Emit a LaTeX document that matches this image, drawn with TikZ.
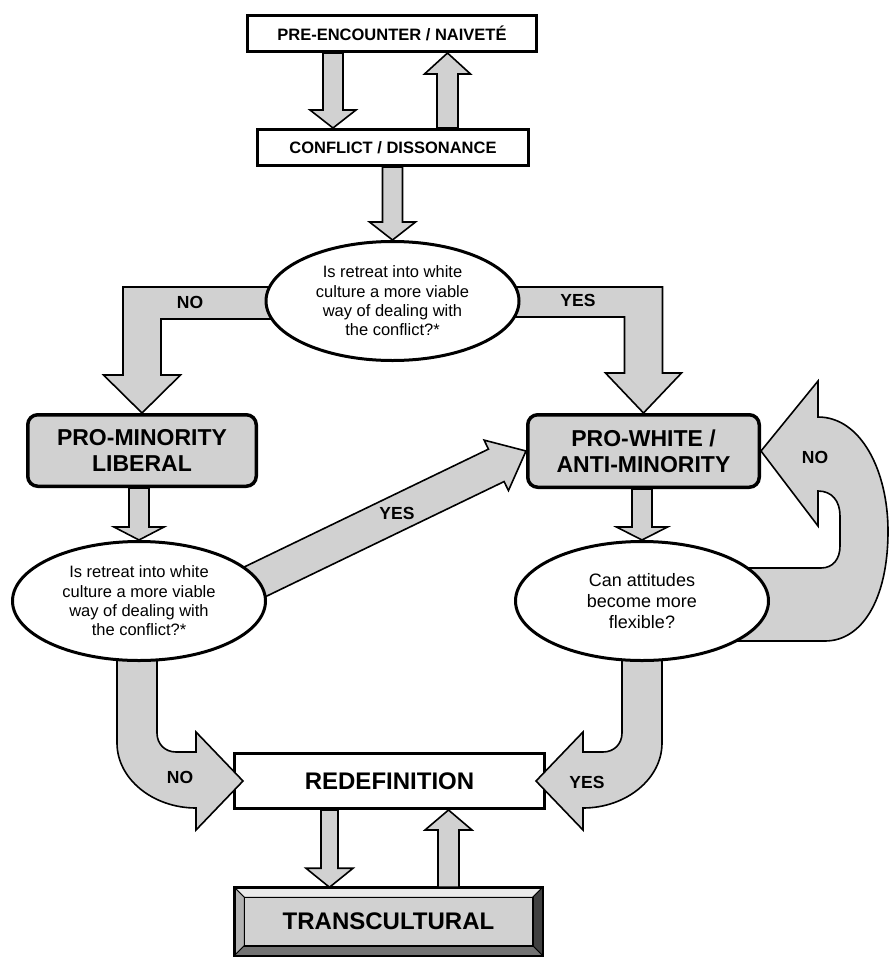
\documentclass[tikz,border=0pt]{standalone}
\usepackage{fontspec}
\setmainfont{Liberation Sans}
\usetikzlibrary{positioning, shapes.geometric, calc}

\pgfdeclarelayer{front}
\pgfsetlayers{main,front}

% block arrow: from, to, half shaft, half head, head length
\newcommand{\fatarrow}[5]{%
  \coordinate (fa-base) at ($(#2)!#5!(#1)$);
  \draw[fat] ($(#1)!#3!90:(#2)$) -- ($(fa-base)!#3!90:(#2)$)
    -- ($(fa-base)!#4!90:(#2)$) -- (#2)
    -- ($(fa-base)!#4!-90:(#2)$) -- ($(fa-base)!#3!-90:(#2)$)
    -- ($(#1)!#3!-90:(#2)$) -- cycle;
}

\begin{document}
\begin{tikzpicture}[
    x=1pt, y=-1pt,          % 1 unit = 1 pixel, y grows downwards
    % white boxes
    plainbox/.style={draw, line width=3pt, fill=white, inner sep=0pt,
        font=\fontsize{16.5}{19}\selectfont\bfseries},
    % grey rounded stage boxes
    stagebox/.style={draw, line width=3.5pt, fill=black!18, rounded corners=10pt,
        inner sep=0pt, align=center, font=\fontsize{23}{25.7}\selectfont\bfseries},
    % bevelled end box
    transbox/.style={draw, line width=2.5pt, fill=black!18, inner sep=0pt, outer sep=0pt,
        font=\fontsize{24}{28}\selectfont\bfseries},
    % question ellipses
    question/.style={ellipse, draw, line width=3pt, fill=white, inner sep=0pt, align=center,
        minimum width=253pt, minimum height=119pt, font=\fontsize{16.5}{19.3}\selectfont},
    % grey block arrows
    fat/.style={draw, line width=1.6pt, fill=black!18, line join=miter},
    answer/.style={font=\fontsize{17.5}{20}\selectfont\bfseries}
]
    \useasboundingbox (0,0) rectangle (892,961);

    % --- 1. boxes ---
    \node [plainbox, minimum width=289pt, minimum height=36pt] (pre) at (392,33.5) {PRE-ENCOUNTER / NAIVETÉ};
    \node [plainbox, minimum width=271pt, minimum height=36pt] (conf) at (393,147.5) {CONFLICT / DISSONANCE};
    \node [stagebox, minimum width=228.5pt, minimum height=71.5pt] (promin) at (142,450.5) {PRO-MINORITY\\LIBERAL};
    \node [stagebox, minimum width=231.5pt, minimum height=72.5pt] (prowhite) at (643.5,451) {PRO-WHITE /\\ANTI-MINORITY};
    \node [plainbox, minimum width=310pt, minimum height=55pt, font=\fontsize{24}{28}\selectfont\bfseries]
        (redef) at (389.5,781) {REDEFINITION};
    \node [transbox, minimum width=308.5pt, minimum height=68.5pt] (trans) at (388.5,921.5) {TRANSCULTURAL};

    % bevel of the end box
    \filldraw [black!8, draw=black, line width=1pt] (trans.north west) -- (trans.north east)
        -- ($(trans.north east)+(-10,10)$) -- ($(trans.north west)+(10,10)$) -- cycle;
    \filldraw [black!30, draw=black, line width=1pt] (trans.north west) -- ($(trans.north west)+(10,10)$)
        -- ($(trans.south west)+(10,-10)$) -- (trans.south west) -- cycle;
    \filldraw [black!75, draw=black, line width=1pt] (trans.north east) -- (trans.south east)
        -- ($(trans.south east)+(-10,-10)$) -- ($(trans.north east)+(-10,10)$) -- cycle;
    \filldraw [black!55, draw=black, line width=1pt] (trans.south west) -- (trans.south east)
        -- ($(trans.south east)+(-10,-10)$) -- ($(trans.south west)+(10,-10)$) -- cycle;
    \draw [line width=1.5pt] ($(trans.north west)+(10,10)$) rectangle ($(trans.south east)+(-10,-10)$);
    \draw [line width=2.5pt] (trans.north west) rectangle (trans.south east);

    % --- 2. questions (on top of the arrow tails) ---
    \begin{pgfonlayer}{front}
        \node [question] (q1) at (392.5,301) {Is retreat into white\\culture a more viable\\way of dealing with\\the conflict?*};
        \node [question] (q2) at (139,601) {Is retreat into white\\culture a more viable\\way of dealing with\\the conflict?*};
        \node [question, font=\fontsize{18}{21}\selectfont] (q3) at (642,601) {Can attitudes\\become more\\flexible?};
    \end{pgfonlayer}

    % --- 3. straight block arrows ---
    \coordinate (pcS) at ($(pre.south)+(-59,0)$);
    \fatarrow{pcS}{pcS |- conf.north}{10pt}{23pt}{18pt}
    \coordinate (cpS) at ($(conf.north)+(54.5,0)$);
    \fatarrow{cpS}{cpS |- pre.south}{10.5pt}{23pt}{21pt}
    \fatarrow{conf.south -| q1.north}{q1.north}{10pt}{23pt}{18pt}
    \fatarrow{q2.north |- promin.south}{q2.north}{10pt}{25pt}{13pt}
    \fatarrow{q3.north |- prowhite.south}{q3.north}{10pt}{25.5pt}{13pt}
    \coordinate (rtS) at ($(redef.south)+(-60,0)$);
    \fatarrow{rtS}{rtS |- trans.north}{8.5pt}{23.5pt}{19pt}
    \coordinate (trS) at ($(trans.north)+(60,0)$);
    \fatarrow{trS}{trS |- redef.south}{10.5pt}{23.5pt}{20pt}

    % diagonal YES
    \coordinate (dyS) at ($(q2.center)+(101,-12)$);
    \fatarrow{dyS}{prowhite.west}{18pt}{28pt}{33pt}

    % --- 4. bent block arrows ---
    % NO from the first question
    \draw [fat] (promin.north) -- ++(-38.5,-38) -- ++(19.5,0) -- ++(0,-88) -- ++(179,0)
        -- ++(0,32) -- ++(-141,0) -- ++(0,56) -- ++(19.5,0) -- cycle;
    % YES from the first question
    \draw [fat] (prowhite.north) -- ++(38,-40) -- ++(-19,0) -- ++(0,-86) -- ++(-183,0)
        -- ++(0,30) -- ++(145,0) -- ++(0,56) -- ++(-19,0) -- cycle;

    % NO into REDEFINITION
    \begin{scope}[shift={($(redef.west)+(10,0)$)}]
        \draw [fat] (0,0) -- (-47,-49) -- (-47,-29) -- (-67,-29)
            .. controls (-78,-29) and (-86,-37) .. (-86,-48) -- (-86,-161) -- (-126,-161)
            -- (-126,-38) .. controls (-126,-2) and (-90,27) .. (-47,27) -- (-47,49) -- cycle;
    \end{scope}
    % YES into REDEFINITION (mirror)
    \begin{scope}[shift={($(redef.east)+(-10,0)$)}, xscale=-1]
        \draw [fat] (0,0) -- (-47,-49) -- (-47,-29) -- (-67,-29)
            .. controls (-78,-29) and (-86,-37) .. (-86,-48) -- (-86,-161) -- (-126,-161)
            -- (-126,-38) .. controls (-126,-2) and (-90,27) .. (-47,27) -- (-47,49) -- cycle;
    \end{scope}

    % NO loop back to PRO-WHITE
    \begin{scope}[shift={(prowhite.east)}]
        \draw [fat] (0,0) -- (57,-70) -- (57,-34)
            .. controls (100,-34) and (127,20) .. (127,80)
            .. controls (127,150) and (100,190) .. (64,190) -- (-43,190) -- (-43,117) -- (60,117)
            .. controls (72,117) and (79,108) .. (79,95) -- (79,65)
            .. controls (79,50) and (71,40) .. (57,40) -- (57,75) -- cycle;
    \end{scope}

    % --- 5. answer labels ---
    \node [answer] (noA) at (190,302) {NO};
    \node [answer] (yesA) at (578,300) {YES};
    \node [answer] (yesB) at (397,513) {YES};
    \node [answer] (noB) at (815,457) {NO};
    \node [answer] (noC) at (180,777) {NO};
    \node [answer] (yesC) at (587,782) {YES};

\end{tikzpicture}
\end{document}
